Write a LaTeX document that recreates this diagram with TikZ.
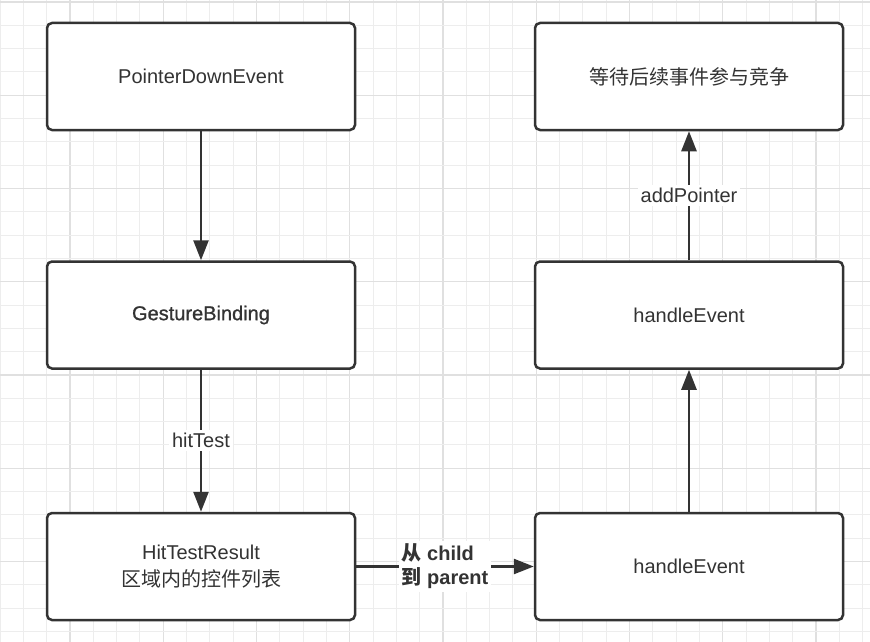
\documentclass[tikz,border=0pt]{standalone}
\usepackage{fontspec}
\setmainfont{Liberation Sans}
\newfontfamily\cjk{Noto Sans CJK SC}
\newfontfamily\semibold[FakeBold=1]{Liberation Sans}
\usetikzlibrary{arrows.meta}

\definecolor{inkline}{HTML}{333333}
\definecolor{gridminor}{HTML}{EDEDED}
\definecolor{gridmajor}{HTML}{E0E0E0}

\tikzset{
    box/.style={draw=inkline, line width=2.5pt, rounded corners=5pt, fill=white,
        minimum width=308pt, minimum height=107pt, align=center, text=inkline,
        font=\fontsize{20}{27}\selectfont},
    flow/.style={draw=inkline, line width=2.6pt, -{Triangle[width=15pt,length=20pt]}},
    lbl/.style={fill=white, text=inkline, inner sep=3pt, font=\fontsize{20}{24}\selectfont}
}

\begin{document}
\begin{tikzpicture}[x=1pt,y=-1pt]
    \useasboundingbox (0,0) rectangle (870,642);
    \fill[white] (0,0) rectangle (870,642);

    % grid
    \foreach \i in {0,...,37} {
        \pgfmathtruncatemacro\m{mod(\i,4)}
        \ifnum\m=3
            \draw[gridmajor, line width=1.2pt] ({\i*23.3125},0) -- ({\i*23.3125},642);
        \else
            \draw[gridminor, line width=1pt] ({\i*23.3125},0) -- ({\i*23.3125},642);
        \fi
    }
    \foreach \j in {0,...,27} {
        \pgfmathtruncatemacro\m{mod(\j,4)}
        \ifnum\m=0
            \draw[gridmajor, line width=1.2pt] (0,{2+\j*23.3125}) -- (870,{2+\j*23.3125});
        \else
            \draw[gridminor, line width=1pt] (0,{2+\j*23.3125}) -- (870,{2+\j*23.3125});
        \fi
    }

    \node[box] (pde) at (201,76.5) {PointerDownEvent};
    \node[box] (gb) at (201,315) {\semibold GestureBinding};
    \node[box] (htr) at (201,566.5) {HitTestResult\\{\cjk 区域内的控件列表}};

    \node[box] (wait) at (689,76.5) {\cjk 等待后续事件参与竞争};
    \node[box] (he1) at (689,315) {handleEvent};
    \node[box] (he2) at (689,566.5) {handleEvent};

    \draw[flow] (pde) -- (gb);
    \draw[flow] (gb) -- node[lbl] {hitTest} (htr);
    \draw[flow] (htr) -- node[lbl, align=left, font=\fontsize{20}{24}\selectfont\bfseries]
        {{\cjk\bfseries 从} child\\{\cjk\bfseries 到} parent} (he2);
    \draw[flow] (he2) -- (he1);
    \draw[flow] (he1) -- node[lbl] {addPointer} (wait);
\end{tikzpicture}
\end{document}
